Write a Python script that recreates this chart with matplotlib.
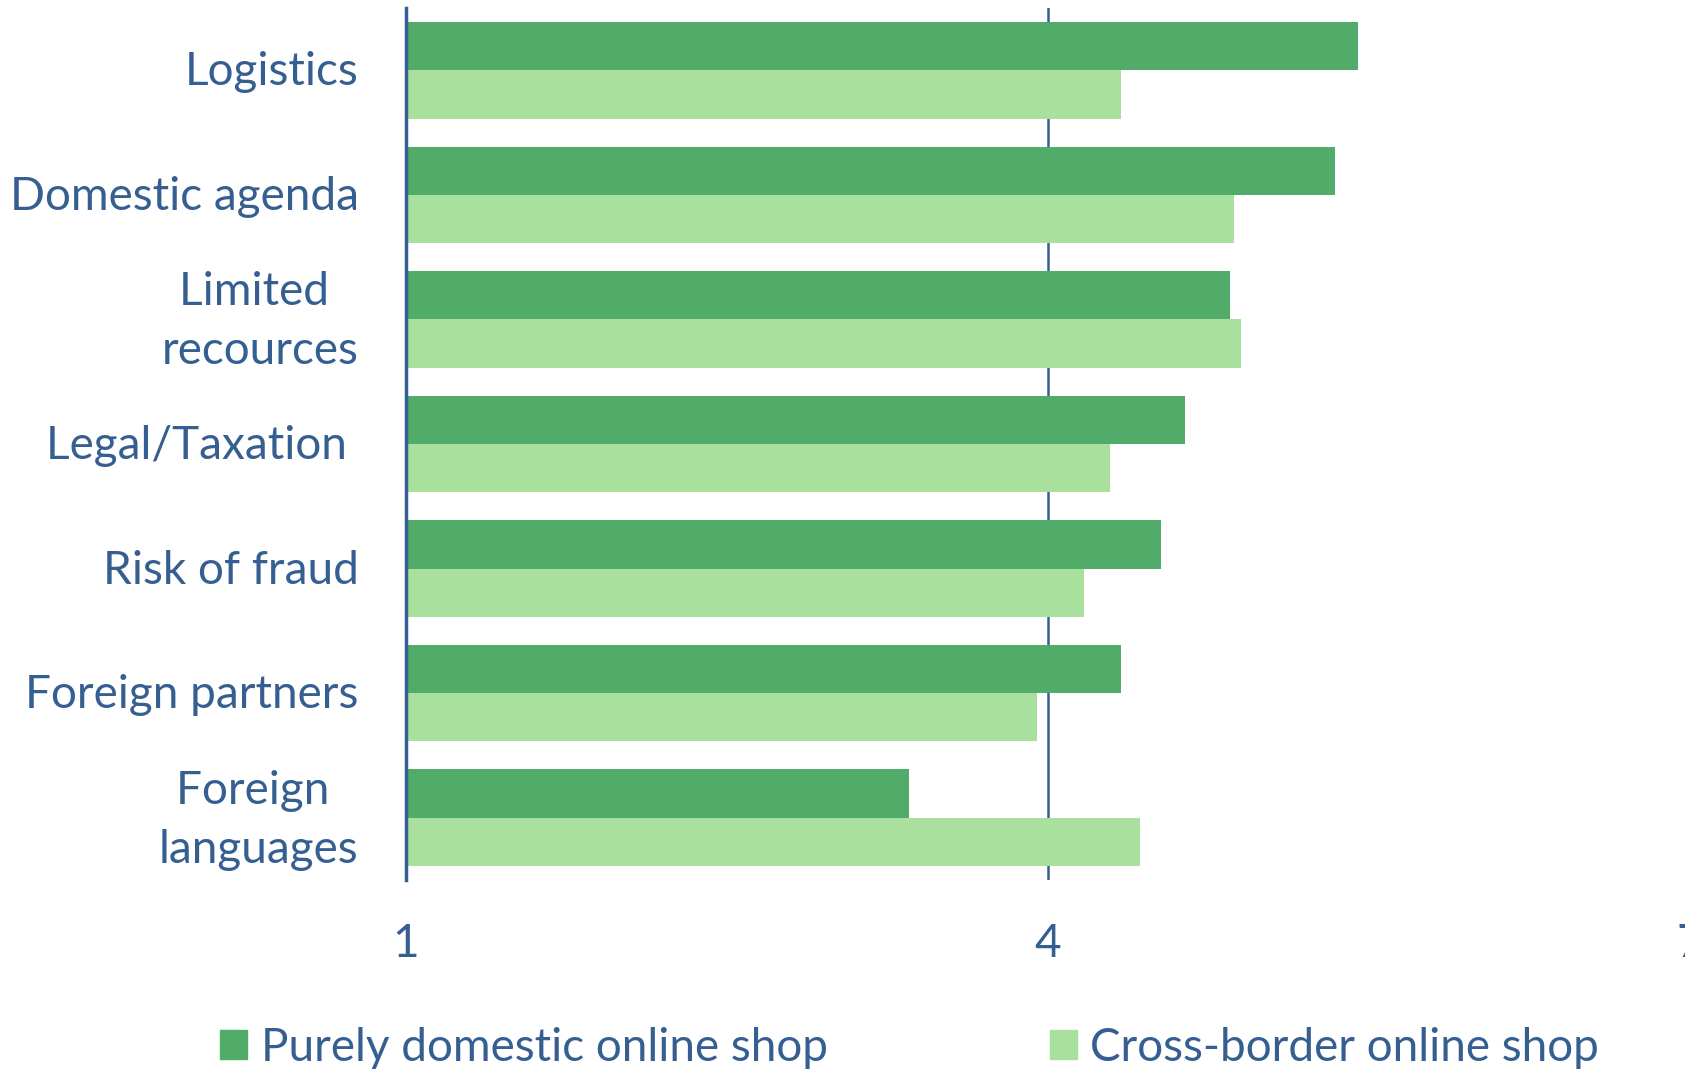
import matplotlib
matplotlib.use("Agg")
import matplotlib.pyplot as plt
import matplotlib.transforms as mtransforms
from matplotlib.patches import Patch
import numpy as np

categories = ["Logistics", "Domestic agenda", "Limited \nrecources", "Legal/Taxation ",
              "Risk of fraud", "Foreign partners", "Foreign \nlanguages"]
domestic = [5.45, 5.34, 4.85, 4.64, 4.53, 4.34, 3.35]
cross_border = [4.34, 4.87, 4.90, 4.29, 4.17, 3.95, 4.43]
series_names = ["Purely domestic online shop", "Cross-border online shop"]
xticks = [1, 4, 7]

dark = "#52AC69"
light = "#A9E09D"
txt = "#365F91"

plt.rcParams['font.family'] = ['Lato', 'DejaVu Sans']

fig = plt.figure(figsize=(16.85, 10.69), dpi=100)
ax = fig.add_axes([0.2409, 0.1768, 0.7621, 0.8157])

y = np.arange(len(categories))
h = 0.388
ax.barh(y - h / 2, np.array(domestic) - 1, left=1, height=h, color=dark)
ax.barh(y + h / 2, np.array(cross_border) - 1, left=1, height=h, color=light)

ax.set_xlim(1, 7)
ax.set_ylim(len(categories) - 0.5, -0.5)
ax.set_xticks(xticks)
ax.set_xticklabels([str(t) for t in xticks])
ax.set_yticks(y)
ax.set_yticklabels(categories, multialignment="center", linespacing=1.5)
ax.tick_params(axis="both", length=0, colors=txt, labelsize=33)
ax.tick_params(axis="x", pad=31)
ax.tick_params(axis="y", pad=34)

# nudge labels up a bit (two-line ones more)
for lab in ax.get_yticklabels():
    dy = 10 if "\n" in lab.get_text() else 2
    off = mtransforms.ScaledTranslation(0, dy / 100, fig.dpi_scale_trans)
    lab.set_transform(lab.get_transform() + off)

for s in ["top", "right", "bottom"]:
    ax.spines[s].set_visible(False)
ax.spines["left"].set_color(txt)
ax.spines["left"].set_linewidth(2.5)
ax.axvline(4, color=txt, lw=1.8, zorder=0)

handles = [Patch(color=dark), Patch(color=light)]
fig.legend(handles, series_names, loc="center", bbox_to_anchor=(0.54, 0.02), ncol=2,
           frameon=False, fontsize=33, labelcolor=txt, handlelength=0.58, handleheight=0.58,
           handletextpad=0.3, columnspacing=4.85)

fig.savefig("out.png", dpi=100)
